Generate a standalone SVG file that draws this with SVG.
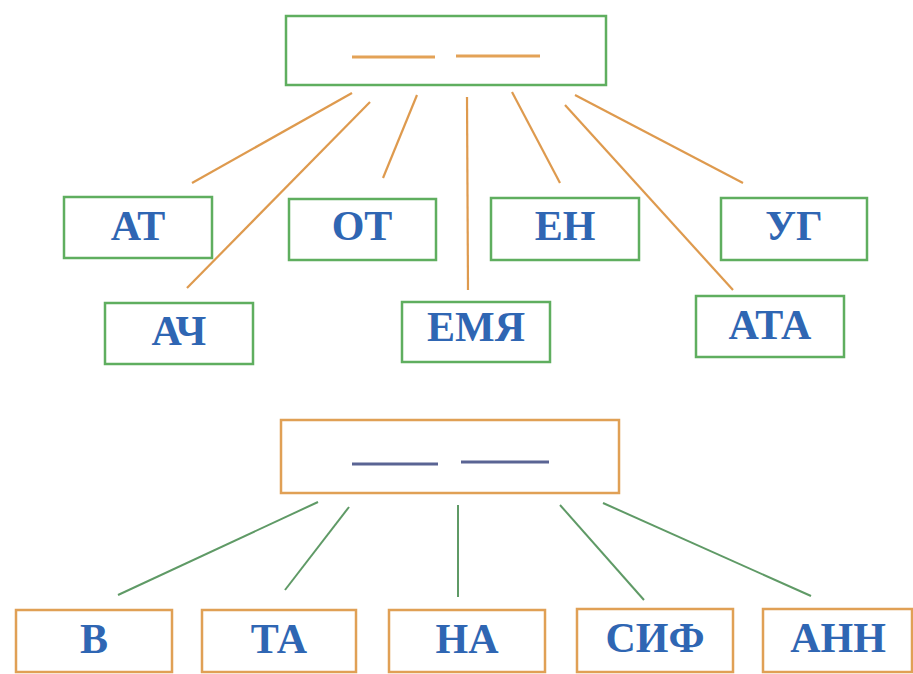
<svg xmlns="http://www.w3.org/2000/svg" width="913" height="674" viewBox="0 0 913 674">
<style>
.g{fill:#fff;stroke:#5fae5f;stroke-width:2.5}
.o{fill:#fff;stroke:#e0a055;stroke-width:2.5}
.t{font-family:"Liberation Serif","DejaVu Serif",serif;font-weight:bold;font-size:42px;fill:#2f66b3;text-anchor:middle}
.co line{stroke:#de9a4e;stroke-width:2.2}
.cg line{stroke:#5f9a66;stroke-width:2}
</style>
<rect width="913" height="674" fill="#fff"/>
<g id="connectors">
<g class="co">
<line x1="352" y1="93" x2="192" y2="183"/>
<line x1="370" y1="102" x2="187" y2="288"/>
<line x1="417" y1="95" x2="383" y2="178"/>
<line x1="467" y1="97" x2="468" y2="290"/>
<line x1="512" y1="92" x2="560" y2="183"/>
<line x1="565" y1="105" x2="733" y2="290"/>
<line x1="575" y1="95" x2="743" y2="183"/>
</g>
<g class="cg">
<line x1="318" y1="502" x2="118" y2="595"/>
<line x1="349" y1="507" x2="285" y2="590"/>
<line x1="458" y1="505" x2="458" y2="597"/>
<line x1="560" y1="505" x2="644" y2="600"/>
<line x1="603" y1="503" x2="811" y2="596"/>
</g>
</g>
<g id="root1">
<rect class="g" x="286" y="16" width="320" height="69"/>
<line x1="352" y1="57" x2="435" y2="57" stroke="#e3a257" stroke-width="3"/>
<line x1="456" y1="56" x2="540" y2="56" stroke="#e3a257" stroke-width="3"/>
</g>
<g id="n-at"><rect class="g" x="64" y="197" width="148" height="61"/><text class="t" x="138" y="240">АТ</text></g>
<g id="n-ot"><rect class="g" x="289" y="199" width="147" height="61"/><text class="t" x="362" y="240">ОТ</text></g>
<g id="n-en"><rect class="g" x="491" y="198" width="148" height="62"/><text class="t" x="565" y="240">ЕН</text></g>
<g id="n-ug"><rect class="g" x="721" y="198" width="146" height="62"/><text class="t" x="794" y="240">УГ</text></g>
<g id="n-ach"><rect class="g" x="105" y="303" width="148" height="61"/><text class="t" x="179" y="345">АЧ</text></g>
<g id="n-emya"><rect class="g" x="402" y="302" width="148" height="60"/><text class="t" x="476" y="341">ЕМЯ</text></g>
<g id="n-ata"><rect class="g" x="696" y="296" width="148" height="61"/><text class="t" x="770" y="339">АТА</text></g>
<g id="root2">
<rect class="o" x="281" y="420" width="338" height="73"/>
<line x1="352" y1="464" x2="438" y2="464" stroke="#5a6494" stroke-width="3"/>
<line x1="461" y1="462" x2="549" y2="462" stroke="#5a6494" stroke-width="3"/>
</g>
<g id="n-v"><rect class="o" x="16" y="610" width="156" height="62"/><text class="t" x="94" y="653">В</text></g>
<g id="n-ta"><rect class="o" x="202" y="610" width="154" height="62"/><text class="t" x="279" y="653">ТА</text></g>
<g id="n-na"><rect class="o" x="389" y="610" width="156" height="62"/><text class="t" x="467" y="653">НА</text></g>
<g id="n-sif"><rect class="o" x="577" y="609" width="156" height="63"/><text class="t" x="655" y="652">СИФ</text></g>
<g id="n-ann"><rect class="o" x="763" y="609" width="149" height="63"/><text class="t" x="838" y="652">АНН</text></g>
</svg>
